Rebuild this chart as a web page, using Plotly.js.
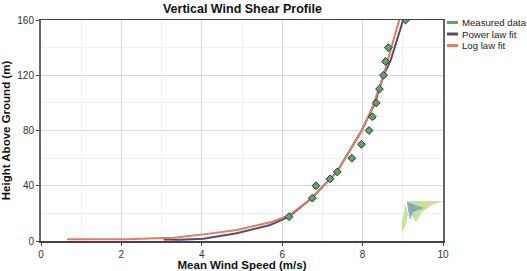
<!DOCTYPE html>
<html>
<head>
<meta charset="utf-8">
<script src="https://cdn.plot.ly/plotly-3.0.1.min.js"></script>
<style>html,body{margin:0;padding:0;background:#fff;}#chart{width:527px;height:271px;}</style>
</head>
<body>
<div id="chart"></div>
<script>
// Measured data
var measuredSpeed  = [6.17, 6.75, 6.84, 7.19, 7.37, 7.73, 7.97, 8.16, 8.24, 8.34, 8.42, 8.52, 8.57, 8.64, 9.07];
var measuredHeight = [17.6, 31, 40, 45, 50, 60, 70, 80, 90, 100, 110, 120, 130, 140, 160];
// Power law fit
var powerSpeed  = [3.05, 3.45, 4.04, 4.87, 5.70, 6.17, 6.73, 7.36, 7.96, 8.31, 8.52, 8.70, 9.01];
var powerHeight = [1.0, 0.9, 1.6, 5.6, 11.6, 17.6, 31, 50, 79, 100, 120, 131, 160];
// Log law fit
var logSpeed  = [0.65, 2.15, 2.85, 3.3, 4.04, 4.87, 5.70, 6.17, 6.73, 7.36, 7.96, 8.22, 8.52, 8.91];
var logHeight = [1.2, 1.3, 2.0, 2.4, 4.8, 8.0, 13.5, 18.5, 31, 50, 79, 95, 120, 160];

var xTicks = [0, 2, 4, 6, 8, 10];
var yTicks = [0, 40, 80, 120, 160];
var legendNames = ['Measured data', 'Power law fit', 'Log law fit'];

var green = '#5aa66c', purple = '#5a4878', orange = '#e67a5e';
var legendColors = [green, purple, orange];

var traces = [
  {x: powerSpeed, y: powerHeight, mode: 'lines', name: legendNames[1],
   line: {color: purple, width: 2}},
  {x: logSpeed, y: logHeight, mode: 'lines', name: legendNames[2],
   line: {color: orange, width: 2}},
  {x: measuredSpeed, y: measuredHeight, mode: 'markers', name: legendNames[0],
   marker: {symbol: 'diamond', size: 6, color: green, line: {color: '#1d3b22', width: 1}}}
];

// plot area in pixels: x 41..443, y 20..241
function px2x(p){ return (p - 41) / 40.2; }
function px2y(p){ return (241 - p) / 1.381; }
function ppx(p){ return (p - 41) / 402; }
function ppy(p){ return (241 - p) / 221; }
function pathOf(pts){
  return 'M' + pts.map(function(p){ return px2x(p[0]).toFixed(3) + ',' + px2y(p[1]).toFixed(3); }).join(' L') + ' Z';
}

var shapes = [
  {type: 'path', xref: 'x', yref: 'y', layer: 'above', line: {width: 0}, fillcolor: 'rgba(190,222,130,0.85)',
   path: pathOf([[406,201],[443,201],[432,205],[422,212],[416,222],[412,216],[409,206]])},
  {type: 'path', xref: 'x', yref: 'y', layer: 'above', line: {width: 0}, fillcolor: 'rgba(190,222,130,0.85)',
   path: pathOf([[405,203],[408,214],[406,224],[402,233],[402,222],[404,212]])},
  {type: 'path', xref: 'x', yref: 'y', layer: 'above', line: {width: 0}, fillcolor: 'rgba(120,160,200,0.85)',
   path: pathOf([[407,202],[424,208],[413,212],[410,220],[408,210]])}
];
var annotations = [];
legendNames.forEach(function(n, i){
  var py = 22.5 + i * 11.5;
  shapes.push({type: 'line', xref: 'paper', yref: 'paper', x0: ppx(447), x1: ppx(458), y0: ppy(py), y1: ppy(py),
               line: {color: legendColors[i], width: 3}});
  annotations.push({xref: 'paper', yref: 'paper', x: ppx(460), y: ppy(py), xanchor: 'left', yanchor: 'middle',
                    text: n, showarrow: false, font: {size: 9.6, color: '#222'}});
});

var layout = {
  width: 527, height: 271,
  margin: {l: 41, r: 84, t: 20, b: 30, pad: 0, autoexpand: false},
  paper_bgcolor: '#ffffff', plot_bgcolor: '#ffffff',
  font: {family: 'Liberation Sans, Arial, sans-serif', size: 10, color: '#333'},
  title: {text: '<b>Vertical Wind Shear Profile</b>', x: 0.46, xanchor: 'center', y: 0.985, yanchor: 'top',
          font: {size: 12.5, color: '#111'}},
  showlegend: false,
  xaxis: {range: [0, 10], tickvals: xTicks, ticktext: xTicks.map(String),
          showgrid: true, gridcolor: '#d8d8d8', gridwidth: 1,
          minor: {dtick: 1, showgrid: true, gridcolor: '#f0f0f0', gridwidth: 1},
          showline: true, linecolor: '#444', linewidth: 1.5, mirror: true,
          ticks: 'outside', ticklen: 3, tickcolor: '#444', zeroline: false,
          title: {text: '<b>Mean Wind Speed (m/s)</b>', standoff: 3, font: {size: 11.5, color: '#111'}}},
  yaxis: {range: [0, 160], tickvals: yTicks, ticktext: yTicks.map(String),
          showgrid: true, gridcolor: '#d8d8d8', gridwidth: 1,
          minor: {dtick: 20, showgrid: true, gridcolor: '#f0f0f0', gridwidth: 1},
          showline: true, linecolor: '#666', linewidth: 2, mirror: true,
          ticks: 'outside', ticklen: 3, tickcolor: '#444', zeroline: false,
          title: {text: '<b>Height Above Ground (m)</b>', standoff: 6, font: {size: 11.5, color: '#111'}}},
  shapes: shapes,
  annotations: annotations
};

Plotly.newPlot('chart', traces, layout, {displayModeBar: false, staticPlot: true});
</script>
</body>
</html>
